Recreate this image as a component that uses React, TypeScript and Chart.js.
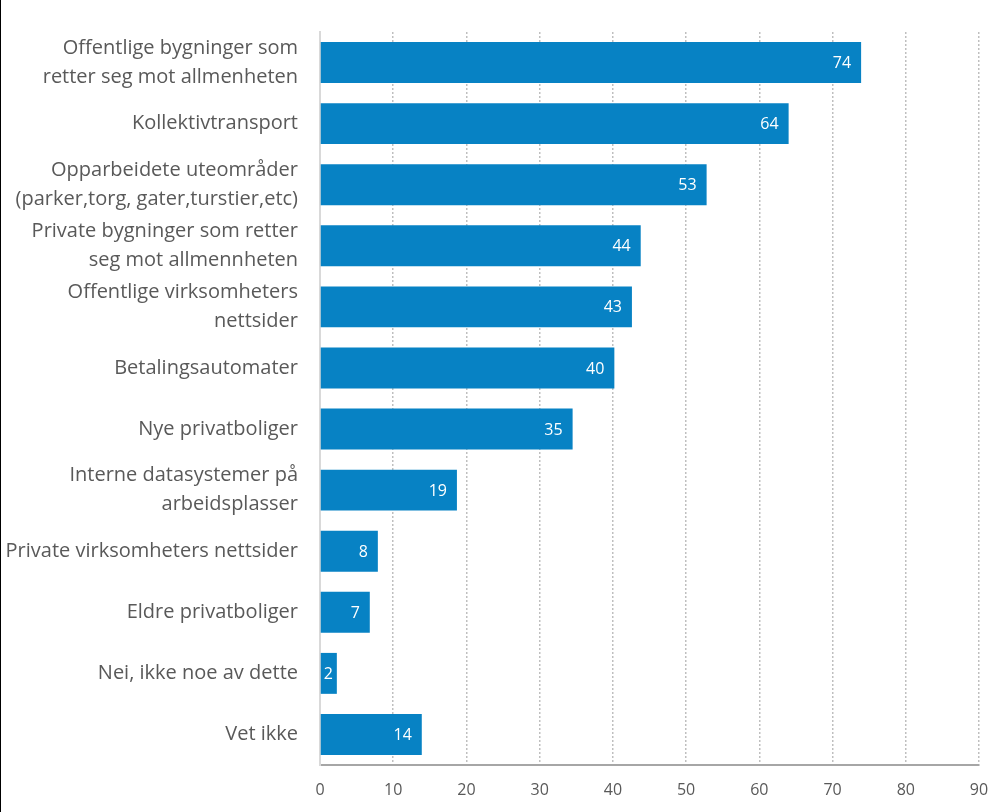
import React, { useEffect, useRef } from "react";
import { Chart, registerables } from "chart.js";

Chart.register(...registerables);

const categories: (string | string[])[] = [
  ["Offentlige bygninger som", "retter seg mot allmenheten"],
  "Kollektivtransport",
  ["Opparbeidete uteområder", "(parker,torg, gater,turstier,etc)"],
  ["Private bygninger som retter", "seg mot allmennheten"],
  ["Offentlige virksomheters", "nettsider"],
  "Betalingsautomater",
  "Nye privatboliger",
  ["Interne datasystemer på", "arbeidsplasser"],
  "Private virksomheters nettsider",
  "Eldre privatboliger",
  "Nei, ikke noe av dette",
  "Vet ikke",
];

const values: number[] = [73.9, 64.0, 52.8, 43.8, 42.6, 40.2, 34.5, 18.7, 7.9, 6.8, 2.3, 13.9];

const xTicks: number[] = [0, 10, 20, 30, 40, 50, 60, 70, 80, 90];

const FONT = "'Open Sans', 'DejaVu Sans', sans-serif";

const labelPlugin = {
  id: "barLabels",
  afterDatasetsDraw(chart: any) {
    const ctx = chart.ctx;
    const meta = chart.getDatasetMeta(0);
    ctx.save();
    ctx.fillStyle = "#ffffff";
    ctx.font = `16px ${FONT}`;
    ctx.textAlign = "right";
    ctx.textBaseline = "middle";
    meta.data.forEach((bar: any, i: number) => {
      const txt = String(Math.round(values[i]));
      const w = ctx.measureText(txt).width;
      const x = Math.max(bar.x - 10, bar.base + w + 3);
      ctx.fillText(txt, x, bar.y + 1);
    });
    ctx.restore();
  },
};

export default function App() {
  const ref = useRef<HTMLCanvasElement>(null);
  useEffect(() => {
    if (!ref.current) return;
    const chart = new Chart(ref.current, {
      type: "bar",
      data: {
        labels: categories,
        datasets: [
          {
            data: values,
            backgroundColor: "#0782C4",
            categoryPercentage: 1,
            barPercentage: 0.67,
          },
        ],
      },
      options: {
        indexAxis: "y",
        responsive: false,
        animation: false,
        layout: { padding: { top: 32, right: 21, bottom: 0, left: 0 } },
        plugins: {
          legend: { display: false },
          tooltip: { enabled: false },
        },
        scales: {
          x: {
            min: 0,
            max: 90,
            afterBuildTicks: (scale: any) => {
              scale.ticks = xTicks.map((v) => ({ value: v }));
            },
            afterFit: (scale: any) => {
              scale.height = 47;
              scale.paddingLeft = 0;
              scale.paddingRight = 0;
            },
            grid: {
              color: "#BFBFBF",
              lineWidth: 1.5,
              drawTicks: false,
            },
            border: { display: true, color: "#A6A6A6", width: 2, dash: [2, 2] },
            ticks: {
              color: "#595959",
              font: { family: FONT, size: 16 },
              padding: 16,
            },
          },
          y: {
            afterFit: (scale: any) => {
              scale.width = 320;
              scale.paddingTop = 0;
              scale.paddingBottom = 0;
            },
            grid: { display: false, drawTicks: false },
            border: { display: true, color: "#D9D9D9", width: 2 },
            ticks: {
              color: "#595959",
              font: { family: FONT, size: 20, lineHeight: 1.45 },
              padding: 22,
            },
          },
        },
      },
      plugins: [labelPlugin],
    });
    return () => chart.destroy();
  }, []);

  return (
    <div style={{ position: "fixed", left: 0, top: 0, width: 1000, height: 812, background: "#fff" }}>
      <canvas ref={ref} width={1000} height={812} style={{ display: "block" }} />
      <div style={{ position: "absolute", left: 0, top: 0, width: 1, height: 812, background: "#000" }} />
    </div>
  );
}
